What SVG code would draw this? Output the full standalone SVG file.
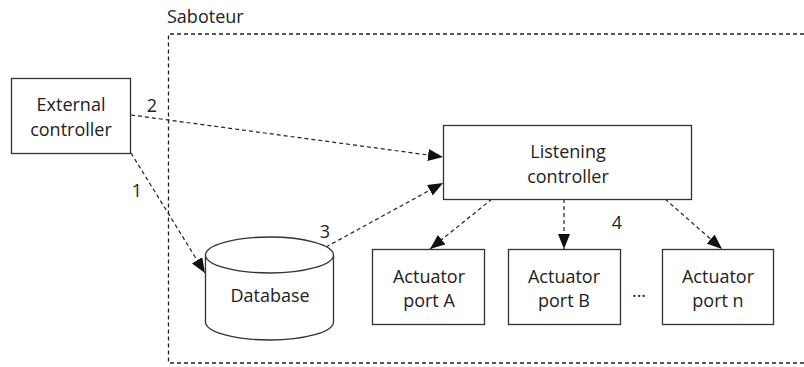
<svg xmlns="http://www.w3.org/2000/svg" width="804" height="367" viewBox="0 0 804 367">
<style>
text{font-family:"Open Sans","Liberation Sans",sans-serif;font-size:18px;fill:#222;text-anchor:middle}
.box{fill:#fff;stroke:#333;stroke-width:1.3}
.con{fill:none;stroke:#222;stroke-width:1.2;stroke-dasharray:4 3}
.frame{fill:none;stroke:#222;stroke-width:1.3;stroke-dasharray:4 3}
</style>
<defs>
<marker id="arr" viewBox="0 0 15 12" refX="15" refY="6" markerWidth="15" markerHeight="12" markerUnits="userSpaceOnUse" orient="auto">
<path d="M0,0 L15,6 L0,12 z" fill="#111"/>
</marker>
</defs>
<g id="saboteur">
<path class="frame" d="M804,34 H168.5 V363 H804"/>
<text x="167" y="23" style="text-anchor:start">Saboteur</text>
</g>
<g id="connectors">
<line class="con" x1="131" y1="115" x2="443" y2="157" marker-end="url(#arr)"/>
<line class="con" x1="131" y1="153" x2="205" y2="273" marker-end="url(#arr)"/>
<line class="con" x1="326" y1="247" x2="443" y2="183" marker-end="url(#arr)"/>
<line class="con" x1="492" y1="199" x2="430" y2="249" marker-end="url(#arr)"/>
<line class="con" x1="564" y1="199" x2="564" y2="249" marker-end="url(#arr)"/>
<line class="con" x1="665" y1="199" x2="722" y2="249" marker-end="url(#arr)"/>
<text x="152" y="112">2</text>
<text x="137" y="197">1</text>
<text x="325" y="238">3</text>
<text x="617" y="229">4</text>
</g>
<g id="external">
<rect class="box" x="11.5" y="78.5" width="119" height="75"/>
<text x="71" y="111">External</text>
<text x="71" y="136">controller</text>
</g>
<g id="listening">
<rect class="box" x="443.5" y="125.5" width="248" height="74"/>
<text x="568" y="158">Listening</text>
<text x="568" y="183">controller</text>
</g>
<g id="database">
<path class="box" d="M205.5,255 V322 A64,18 0 0 0 333.5,322 V255"/>
<ellipse class="box" cx="269.5" cy="255" rx="64" ry="18"/>
<text x="270" y="302">Database</text>
</g>
<g id="actA">
<rect class="box" x="372.5" y="249.5" width="112" height="75"/>
<text x="429" y="283">Actuator</text>
<text x="429" y="307">port A</text>
</g>
<g id="actB">
<rect class="box" x="508.5" y="249.5" width="112" height="75"/>
<text x="564" y="283">Actuator</text>
<text x="564" y="307">port B</text>
</g>
<g id="dots">
<text x="639" y="297">...</text>
</g>
<g id="actN">
<rect class="box" x="662.5" y="249.5" width="111" height="75"/>
<text x="718" y="283">Actuator</text>
<text x="718" y="307">port n</text>
</g>
</svg>
